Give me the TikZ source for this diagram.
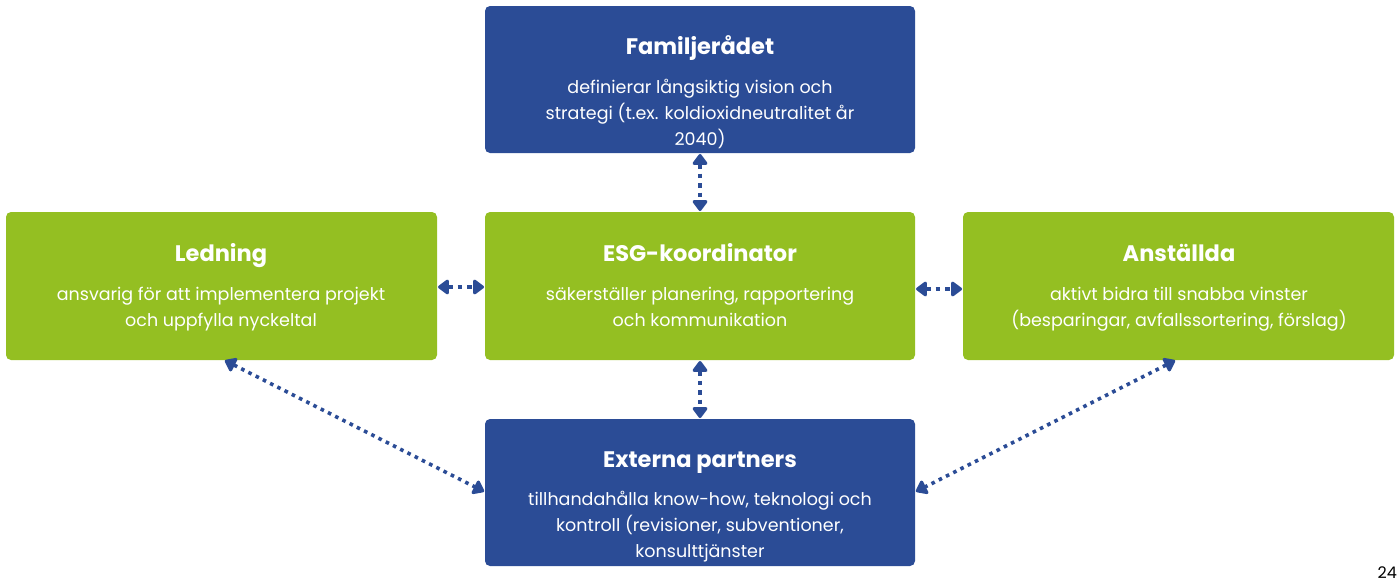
\documentclass[tikz,border=0pt]{standalone}
\usepackage{fontspec}
\setmainfont{Poppins}
\usetikzlibrary{arrows.meta}
\definecolor{dblue}{RGB}{43,76,150}
\definecolor{lgreen}{RGB}{148,191,34}
\tikzset{
  box/.style={rounded corners=5pt, inner sep=0pt},
  ttl/.style={text=white, font=\fontsize{22.5}{26}\selectfont\bfseries, anchor=base, inner sep=0pt},
  bdy/.style={text=white, font=\fontsize{17.5}{25.8}\selectfont, align=center, anchor=north},
  conn/.style={draw=dblue, line width=4.5pt, dash pattern=on 4.5pt off 5pt,
    {Triangle[width=17pt,length=12pt,round]}-{Triangle[width=17pt,length=12pt,round]}, shorten <=1pt, shorten >=1pt},
  dconn/.style={conn, line width=3.6pt, dash pattern=on 3.6pt off 4.5pt}
}
\begin{document}
\begin{tikzpicture}[x=1pt,y=-1pt]
\useasboundingbox (0,0) rectangle (1400,584);
% boxes
\fill[box, dblue] (485,6) rectangle (915,153);
\fill[box, lgreen] (6,212) rectangle (437,360);
\fill[box, lgreen] (485,212) rectangle (915,360);
\fill[box, lgreen] (963,212) rectangle (1394,360);
\fill[box, dblue] (485,419) rectangle (915,566);
\coordinate (famN) at (700,153);
\coordinate (esgN) at (700,212);
\coordinate (esgS) at (700,360);
\coordinate (extN) at (700,419);
\coordinate (ledE) at (437,287);
\coordinate (esgW) at (485,287);
\coordinate (esgE) at (915,289);
\coordinate (ansW) at (963,289);
\coordinate (ledS) at (224,360);
\coordinate (extW) at (485,492);
\coordinate (ansS) at (1176,360);
\coordinate (extE) at (915,492);
% texts
\node[ttl] (t1) at (700,54) {Familjerådet};
\node[bdy] (b1) at (700,76) {definierar långsiktig vision och\\strategi (t.ex. koldioxidneutralitet år\\2040)};
\node[ttl] (t2) at (221,261) {Ledning};
\node[bdy] (b2) at (221,284) {ansvarig för att implementera projekt\\och uppfylla nyckeltal};
\node[ttl] (t3) at (700,261) {ESG-koordinator};
\node[bdy] (b3) at (700,284) {säkerställer planering, rapportering\\och kommunikation};
\node[ttl] (t4) at (1179,261) {Anställda};
\node[bdy] (b4) at (1179,284) {aktivt bidra till snabba vinster\\(besparingar, avfallssortering, förslag)};
\node[ttl] (t5) at (700,467) {Externa partners};
\node[bdy] (b5) at (700,488) {tillhandahålla know-how, teknologi och\\kontroll (revisioner, subventioner,\\konsulttjänster};
\node[anchor=base east, font=\fontsize{16}{20}\selectfont, text=black, inner sep=0pt] (pg) at (1397,578) {24};
% connectors
\draw[conn] (famN) -- (esgN);
\draw[conn] (esgS) -- (extN);
\draw[conn] (ledE) -- (esgW);
\draw[conn] (esgE) -- (ansW);
\draw[dconn] (ledS) -- (extW);
\draw[dconn] (ansS) -- (extE);
\end{tikzpicture}
\end{document}
